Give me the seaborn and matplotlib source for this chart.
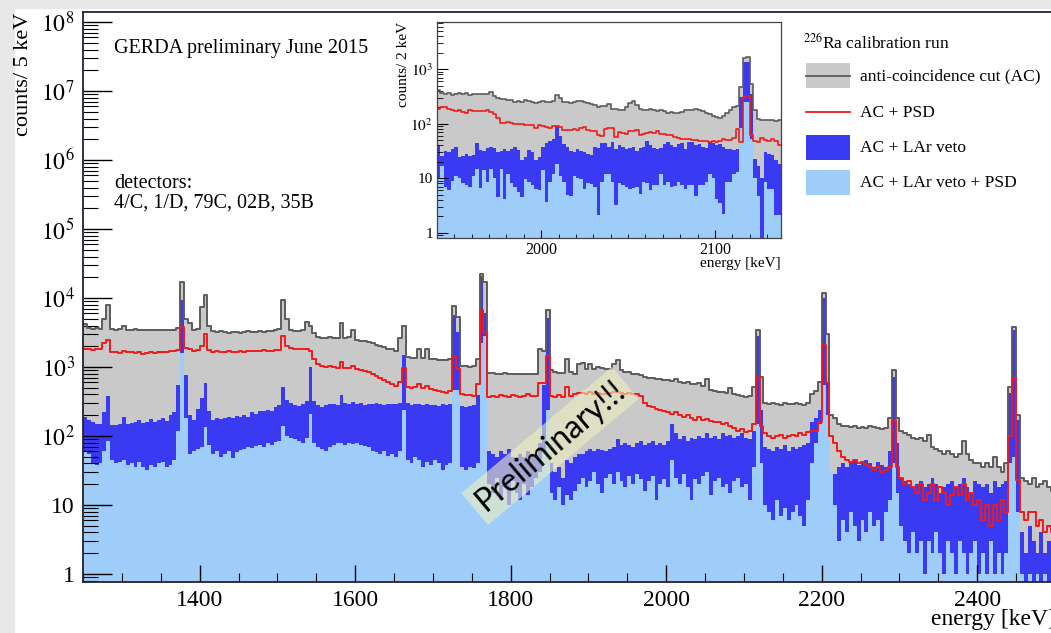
import numpy as np
import pandas as pd
import seaborn as sns
import matplotlib.pyplot as plt
from matplotlib.patches import Rectangle
from matplotlib.lines import Line2D
from matplotlib.ticker import FixedLocator, FixedFormatter, MultipleLocator, LogLocator, NullFormatter

plt.rcParams['font.family'] = ['Liberation Serif', 'DejaVu Serif']
plt.rcParams['mathtext.fontset'] = 'stix'

# main spectrum: 5 keV bins starting at 1250 keV
E_MIN, E_STEP = 1250, 5

ac = [4200, 3700, 3600, 3700, 3600, 5000, 8000, 3600, 3500, 3600,
      4000, 3500, 3500, 3600, 3500, 3500, 3400, 3500, 3500, 3400,
      3400, 3500, 3400, 3500, 3700, 17000, 5000, 4300, 3500, 3600,
      7500, 11000, 4000, 3300, 3200, 3300, 3200, 3100, 3200, 3200,
      3100, 3200, 3300, 3200, 3200, 3300, 3200, 3300, 3300, 3400,
      3600, 9400, 5000, 3500, 3300, 3300, 3400, 4500, 4000, 3100,
      2700, 2600, 2600, 2700, 2600, 2600, 4300, 2600, 2700, 3500,
      2500, 2400, 2400, 2300, 2200, 2100, 2000, 1950, 1850, 1800,
      1700, 2600, 4000, 1400, 1350, 1350, 1800, 1350, 1800, 1300,
      1300, 1250, 1250, 1250, 1300, 7700, 5400, 1050, 1050, 1000,
      1050, 1300, 22000, 17000, 820, 820, 800, 800, 810, 800,
      790, 800, 800, 780, 800, 790, 800, 1800, 1700, 6800,
      900, 850, 820, 820, 1300, 850, 800, 1100, 1150, 950,
      1100, 950, 1000, 980, 950, 950, 1100, 1250, 900, 850,
      850, 800, 800, 760, 720, 700, 700, 680, 660, 650,
      640, 620, 660, 600, 580, 600, 570, 560, 580, 540,
      680, 470, 450, 440, 430, 420, 500, 400, 390, 380,
      370, 380, 520, 3400, 720, 300, 290, 300, 290, 280,
      300, 290, 290, 300, 290, 280, 300, 400, 450, 600,
      12000, 3000, 200, 180, 150, 140, 140, 135, 140, 130,
      135, 130, 140, 135, 130, 125, 130, 180, 900, 180,
      120, 110, 105, 95, 90, 95, 85, 105, 70, 65,
      60, 55, 60, 55, 50, 55, 85, 55, 45, 40,
      40, 35, 40, 35, 50, 35, 30, 40, 520, 3800,
      200, 25, 22, 20, 25, 18, 20, 22, 18, 16]

ac_psd = [1800, 1800, 1750, 1800, 1800, 2200, 2500, 1650, 1650, 1600,
          1700, 1650, 1650, 1600, 1650, 1550, 1600, 1650, 1600, 1650,
          1650, 1650, 1700, 1700, 1750, 3800, 1900, 1800, 1700, 1750,
          2000, 3000, 1750, 1650, 1700, 1650, 1650, 1700, 1650, 1650,
          1700, 1650, 1700, 1700, 1700, 1700, 1750, 1700, 1700, 1750,
          1750, 2850, 2000, 1900, 1850, 1850, 1800, 1850, 1700, 1300,
          1100, 1050, 1000, 1050, 1000, 980, 1200, 980, 960, 1050,
          950, 900, 880, 850, 800, 750, 700, 650, 600, 560,
          530, 600, 960, 520, 500, 520, 560, 500, 530, 480,
          460, 450, 430, 420, 450, 1450, 950, 400, 390, 390,
          380, 560, 6700, 3200, 370, 380, 370, 390, 380, 370,
          390, 380, 370, 380, 400, 380, 380, 580, 580, 1450,
          380, 370, 390, 370, 520, 380, 400, 420, 420, 400,
          430, 410, 420, 400, 410, 420, 430, 440, 420, 410,
          420, 400, 410, 380, 300, 270, 260, 250, 240, 230,
          220, 210, 220, 200, 190, 200, 180, 170, 190, 170,
          175, 165, 160, 160, 150, 155, 140, 130, 120, 125,
          115, 120, 150, 710, 140, 110, 100, 95, 100, 105,
          95, 100, 105, 100, 110, 105, 115, 120, 120, 160,
          2100, 580, 100, 80, 60, 50, 45, 42, 45, 40,
          42, 38, 35, 32, 35, 30, 32, 35, 170, 35,
          25, 20, 22, 18, 15, 20, 12, 15, 20, 12,
          18, 15, 10, 14, 18, 14, 20, 12, 15, 10,
          12, 6, 10, 5, 10, 6, 12, 8, 100, 690,
          23, 8, 6, 8, 8, 5, 6, 4, 5, 4]

ac_lar = [190, 170, 160, 150, 150, 225, 380, 145, 145, 150,
          190, 150, 155, 160, 170, 155, 160, 175, 160, 170,
          185, 165, 200, 220, 550, 9400, 770, 200, 170, 250,
          350, 580, 230, 170, 180, 175, 185, 190, 185, 195,
          190, 200, 190, 220, 210, 230, 230, 240, 230, 260,
          280, 520, 330, 300, 280, 270, 290, 320, 1000, 320,
          280, 260, 280, 290, 290, 280, 390, 300, 290, 310,
          290, 300, 280, 290, 290, 300, 290, 280, 290, 290,
          290, 300, 1500, 300, 280, 290, 290, 280, 290, 280,
          280, 270, 290, 280, 290, 5600, 3200, 270, 260, 270,
          280, 390, 21000, 6000, 60, 55, 50, 60, 55, 65,
          50, 45, 55, 50, 60, 55, 55, 80, 550, 5100,
          40, 30, 35, 25, 45, 40, 50, 55, 55, 60,
          65, 60, 65, 62, 60, 65, 70, 90, 75, 80,
          75, 70, 80, 85, 75, 80, 85, 75, 80, 75,
          85, 150, 110, 90, 100, 85, 95, 90, 100, 95,
          110, 95, 100, 90, 110, 100, 105, 95, 100, 110,
          95, 90, 120, 2800, 240, 70, 65, 60, 70, 65,
          75, 60, 70, 65, 70, 75, 80, 160, 180, 240,
          10000, 600, 30, 28, 35, 40, 35, 40, 45, 38,
          42, 45, 40, 35, 42, 38, 35, 60, 720, 80,
          25, 22, 20, 18, 20, 22, 18, 20, 25, 20,
          15, 18, 20, 22, 18, 20, 25, 18, 15, 22,
          20, 18, 20, 15, 22, 18, 20, 22, 420, 3400,
          170, 4, 2, 5, 3, 2, 4, 2, 3, 2]

ac_lar_psd = [60, 55, 40, 38, 40, 60, 85, 45, 40, 42,
              45, 38, 40, 36, 42, 35, 32, 38, 35, 40,
              42, 36, 38, 45, 120, 1600, 180, 55, 60, 65,
              70, 137, 75, 55, 60, 50, 55, 60, 48, 58,
              62, 65, 70, 68, 72, 75, 70, 80, 75, 82,
              85, 140, 100, 95, 90, 85, 80, 95, 210, 80,
              70, 65, 60, 70, 75, 80, 78, 75, 80, 76,
              78, 75, 72, 70, 60, 58, 55, 60, 52, 55,
              50, 60, 240, 45, 40, 50, 45, 35, 42, 38,
              45, 40, 32, 38, 40, 460, 460, 35, 32, 36,
              34, 40, 2200, 2800, 20, 15, 25, 12, 18, 10,
              22, 15, 12, 20, 14, 18, 25, 30, 60, 240,
              15, 12, 18, 10, 14, 12, 16, 20, 25, 18,
              22, 30, 20, 15, 25, 28, 20, 30, 22, 18,
              26, 20, 28, 24, 16, 22, 26, 12, 20, 24,
              18, 45, 25, 20, 28, 18, 12, 24, 20, 26,
              30, 14, 22, 25, 18, 20, 15, 22, 25, 18,
              20, 12, 35, 150, 40, 10, 8, 6, 12, 7,
              9, 6, 8, 10, 7, 5, 12, 40, 80, 150,
              550, 200, 30, 10, 3, 6, 4, 8, 5, 3,
              6, 4, 8, 5, 6, 3, 8, 12, 40, 15,
              5, 3, 2, 4, 2, 3, 1, 3, 2, 4,
              2, 1, 3, 2, 1, 3, 2, 1, 2, 3,
              1, 2, 1, 3, 1, 2, 1, 2, 40, 50,
              8, 1, 0, 1, 0, 1, 0, 1, 0, 1]

# inset: 2 keV bins starting at 1940 keV
IN_MIN, IN_STEP = 1940, 2

in_ac = [410, 370, 355, 360, 330, 345, 360, 355, 360, 340,
         345, 355, 350, 355, 355, 375, 320, 300, 280, 285,
         275, 270, 250, 265, 255, 270, 260, 250, 245, 255,
         260, 250, 255, 265, 330, 300, 255, 250, 245, 250,
         265, 260, 250, 240, 230, 225, 200, 210, 215, 230,
         190, 185, 175, 178, 200, 240, 260, 220, 190, 175,
         180, 190, 175, 172, 175, 168, 160, 162, 158, 155,
         165, 175, 180, 175, 185, 180, 172, 160, 150, 140,
         135, 130, 140, 160, 175, 200, 215, 470, 1600, 1700,
         540, 175, 123, 115, 118, 115, 115, 112, 115]

in_ac_psd = [190, 200, 205, 190, 175, 170, 175, 165, 160, 175,
             170, 168, 170, 172, 175, 165, 150, 130, 105, 104,
             106, 102, 100, 98, 100, 95, 93, 96, 82, 95,
             92, 88, 84, 90, 92, 88, 76, 78, 78, 80,
             78, 82, 86, 78, 75, 72, 62, 60, 80, 82,
             85, 58, 70, 68, 65, 72, 75, 78, 61, 66,
             68, 70, 68, 72, 65, 66, 62, 61, 58, 55,
             53, 52, 52, 50, 51, 49, 48, 49, 47, 48,
             46, 48, 52, 50, 50, 54, 81, 46, 310, 320,
             61, 48, 46, 54, 50, 48, 52, 48, 40]

in_ac_lar = [40, 26, 32, 30, 35, 38, 25, 26, 28, 26,
             27, 44, 33, 32, 36, 38, 36, 30, 32, 34,
             32, 34, 38, 33, 22, 25, 33, 30, 22, 25,
             38, 45, 48, 52, 90, 60, 42, 38, 32, 30,
             34, 32, 30, 28, 27, 38, 36, 44, 45, 38,
             46, 35, 40, 38, 35, 36, 37, 32, 36, 38,
             49, 40, 36, 34, 36, 42, 46, 40, 38, 42,
             44, 34, 46, 47, 40, 42, 38, 36, 46, 44,
             40, 42, 38, 35, 34, 33, 34, 310, 1350, 1350,
             350, 23, 17, 10, 30, 28, 27, 22, 18]

in_ac_lar_psd = [10, 17, 7, 6, 9, 11, 10, 8, 7.5, 7,
                 11, 15, 6.5, 14, 8.5, 15, 10, 4.5, 15, 4.2,
                 12, 8, 7, 5.6, 4.5, 9.8, 8.5, 7.5, 6.4, 6,
                 14, 3.6, 8.5, 12, 18, 11, 8.5, 5, 4.8, 11,
                 10, 9.8, 6.4, 8, 7.9, 7, 2.1, 8.5, 12, 12,
                 8.5, 3.2, 8, 7.5, 7, 6.4, 6.5, 6.8, 5.2, 8.5,
                 8, 6, 7.4, 7.5, 12, 7.4, 8.5, 7, 7.3, 8.5,
                 7.5, 6.4, 7.4, 7.4, 4.8, 7.4, 7.4, 8.5, 12, 10,
                 4.2, 3.5, 2.2, 8.5, 8.5, 12, 13, 85, 250, 250,
                 53, 10, 4.8, 0, 8.5, 6.4, 6.4, 2.1, 2.1]

GRAY_FILL = '#c9c9c9'
GRAY_LINE = '#5c5c5c'
RED = '#f21a1a'
BLUE = '#3a3af3'
LIGHT = '#9ecdfa'

W, H = 1051, 633


def fx(px):
    return px / W


def fy(py):
    return (H - py) / H


def spectrum(ax, lo, step, a, psd, lar, larpsd, lw):
    edges = [lo + step * i for i in range(len(a) + 1)]
    df = pd.DataFrame({'E': [e + step / 2 for e in edges[:-1]], 'ac': a, 'psd': psd,
                       'lar': lar, 'larpsd': larpsd})
    common = dict(data=df, x='E', bins=edges, element='step', ax=ax)
    sns.histplot(weights='ac', fill=True, color=GRAY_FILL, alpha=1, linewidth=0, **common)
    sns.histplot(weights='ac', fill=False, color=GRAY_LINE, linewidth=lw, **common)
    sns.histplot(weights='lar', fill=True, color=BLUE, alpha=1, linewidth=0, **common)
    sns.histplot(weights='larpsd', fill=True, color=LIGHT, alpha=1, linewidth=0, **common)
    sns.histplot(weights='psd', fill=False, color=RED, linewidth=lw, **common)
    ax.set_xlabel('')
    ax.set_ylabel('')


fig = plt.figure(figsize=(W / 100, H / 100), dpi=100)
fig.add_artist(Rectangle((0, 0), fx(14), 1, transform=fig.transFigure,
                         color='#e8e8e8', zorder=-5))
fig.add_artist(Rectangle((0, fy(8)), 1, 8 / H, transform=fig.transFigure,
                         color='#e8e8e8', zorder=-5))

# main axes (right edge runs slightly past the picture)
ax = fig.add_axes([fx(83), fy(582), fx(1055) - fx(83), (582 - 12) / H])
ax.set_yscale('log')
spectrum(ax, E_MIN, E_STEP, ac, ac_psd, ac_lar, ac_lar_psd, 1.4)
ax.set_xlim(1250, 2500)
ax.set_ylim(0.766, 1.4e8)
ax.xaxis.set_major_locator(MultipleLocator(200))
ax.xaxis.set_minor_locator(MultipleLocator(50))
ydec = [10.0 ** k for k in range(9)]
ax.yaxis.set_major_locator(FixedLocator(ydec))
ax.yaxis.set_major_formatter(FixedFormatter(['1', '10'] + [r'$10^{%d}$' % k for k in range(2, 9)]))
ax.yaxis.set_minor_locator(LogLocator(base=10, subs=np.arange(2, 10) * 1.0, numticks=100))
ax.yaxis.set_minor_formatter(NullFormatter())
ax.tick_params(axis='y', which='major', direction='in', length=21, width=1.0, labelsize=17, pad=6)
ax.tick_params(axis='y', which='minor', direction='in', length=11, width=0.8)
ax.tick_params(axis='x', which='major', direction='in', length=12, width=1.0, labelsize=17, pad=6)
ax.tick_params(axis='x', which='minor', direction='in', length=6.5, width=0.8)
for s in ax.spines.values():
    s.set_linewidth(1.3)
    s.set_color('#222233')

fig.text(fx(24), fy(13), 'counts/ 5 keV', rotation=90, va='top', ha='center', fontsize=16)
fig.text(fx(1056), fy(620), 'energy [keV]', ha='right', va='center', fontsize=17)
fig.text(fx(114), fy(48), 'GERDA preliminary June 2015', ha='left', va='center', fontsize=14.5)
fig.text(fx(114), fy(183), 'detectors:', ha='left', va='center', fontsize=14.5)
fig.text(fx(114), fy(203), '4/C, 1/D, 79C, 02B, 35B', ha='left', va='center', fontsize=14.5)

# inset
axi = fig.add_axes([fx(437), fy(238), fx(781) - fx(437), (238 - 22) / H])
axi.set_facecolor('white')
axi.set_yscale('log')
spectrum(axi, IN_MIN, IN_STEP, in_ac, in_ac_psd, in_ac_lar, in_ac_lar_psd, 1.2)
axi.set_xlim(1940, 2138)
axi.set_ylim(0.8, 7350)
axi.xaxis.set_major_locator(FixedLocator([2000, 2100]))
axi.xaxis.set_minor_locator(MultipleLocator(10))
axi.yaxis.set_major_locator(FixedLocator([1, 10, 100, 1000]))
axi.yaxis.set_major_formatter(FixedFormatter(['1', '10', r'$10^{2}$', r'$10^{3}$']))
axi.yaxis.set_minor_locator(LogLocator(base=10, subs=np.arange(2, 10) * 1.0, numticks=100))
axi.yaxis.set_minor_formatter(NullFormatter())
axi.tick_params(axis='y', which='major', direction='in', length=8, width=0.8, labelsize=11, pad=3)
axi.tick_params(axis='y', which='minor', direction='in', length=4.5, width=0.6)
axi.tick_params(axis='x', which='major', direction='in', length=6, width=0.8, labelsize=11.5, pad=3)
axi.tick_params(axis='x', which='minor', direction='in', length=3, width=0.6)
for s in axi.spines.values():
    s.set_linewidth(0.9)
    s.set_color('#444444')
fig.text(fx(403), fy(22), 'counts/ 2 keV', rotation=90, va='top', ha='center', fontsize=11)
fig.text(fx(781), fy(263), 'energy [keV]', ha='right', va='center', fontsize=11)

# legend drawn by hand, ROOT style
fig.text(fx(803), fy(43), r'$^{226}$Ra calibration run', ha='left', va='center', fontsize=12.5)
fig.add_artist(Rectangle((fx(806), fy(88)), fx(44), 25 / H, transform=fig.transFigure,
                         fc=GRAY_FILL, ec='none'))
fig.add_artist(Line2D([fx(806), fx(850)], [fy(76), fy(76)], transform=fig.transFigure,
                      color=GRAY_LINE, lw=1.3))
fig.add_artist(Line2D([fx(806), fx(850)], [fy(112), fy(112)], transform=fig.transFigure,
                      color=RED, lw=1.3))
fig.add_artist(Rectangle((fx(806), fy(160)), fx(44), 25 / H, transform=fig.transFigure,
                         fc=BLUE, ec='none'))
fig.add_artist(Rectangle((fx(806), fy(195)), fx(44), 25 / H, transform=fig.transFigure,
                         fc=LIGHT, ec='none'))
labels = ['anti-coincidence cut (AC)', 'AC + PSD', 'AC + LAr veto', 'AC + LAr veto + PSD']
for lab, yy in zip(labels, [76, 113, 148, 183]):
    fig.text(fx(860), fy(yy), lab, ha='left', va='center', fontsize=12.5)

# watermark
fig.text(fx(550), fy(446), 'Preliminary!!!', rotation=40, rotation_mode='anchor',
         ha='center', va='center', fontsize=23, family=['Lato', 'DejaVu Sans'],
         bbox=dict(boxstyle='square,pad=0.18', fc='#eef0c0', ec='none', alpha=0.6))

fig.savefig('out.png', dpi=100)
